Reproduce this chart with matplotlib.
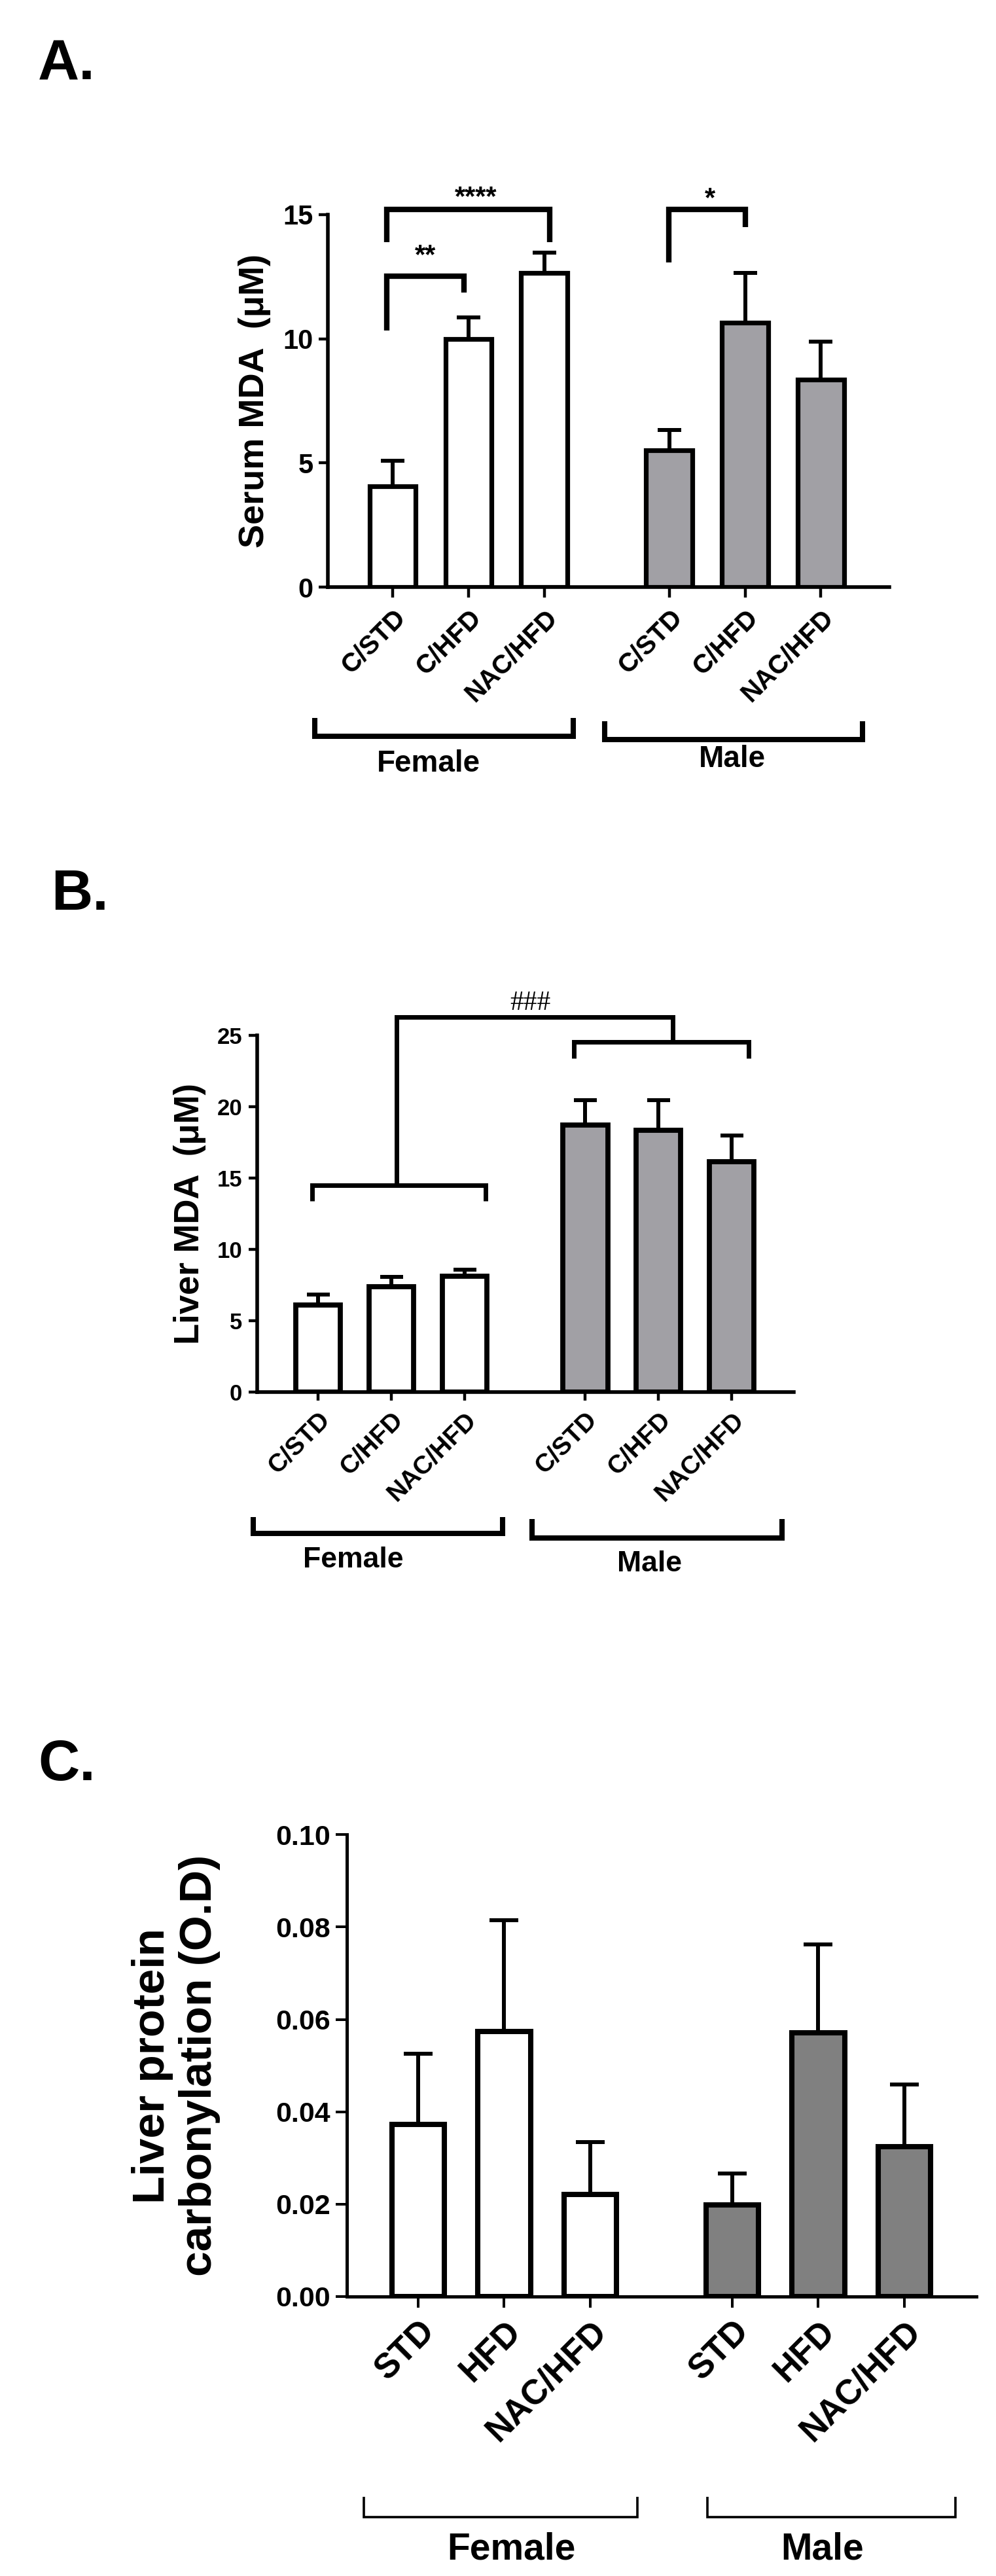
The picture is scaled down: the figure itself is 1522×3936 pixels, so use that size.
import numpy as np
import matplotlib.pyplot as plt

plt.rcParams['font.family'] = ['Liberation Sans', 'DejaVu Sans']
plt.rcParams['font.weight'] = 'bold'

# 组别标签
labels_ab = ['C/STD', 'C/HFD', 'NAC/HFD']
labels_c = ['STD', 'HFD', 'NAC/HFD']

# A: Serum MDA (uM), mean + SEM
serum_female = [4.05, 10.0, 12.64]
serum_female_err = [1.04, 0.85, 0.82]
serum_male = [5.51, 10.66, 8.36]
serum_male_err = [0.82, 1.98, 1.53]

# B: Liver MDA (uM)
liver_female = [6.1, 7.37, 8.12]
liver_female_err = [0.73, 0.70, 0.46]
liver_male = [18.7, 18.35, 16.15]
liver_male_err = [1.75, 2.1, 1.83]

# C: Liver protein carbonylation (O.D)
carb_female = [0.0372, 0.0574, 0.0221]
carb_female_err = [0.0153, 0.024, 0.0113]
carb_male = [0.0199, 0.0571, 0.0325]
carb_male_err = [0.0067, 0.0191, 0.0134]

pos_f = np.array([0.0, 1.0, 2.0])
pos_m = pos_f + 3.65
bar_w = 0.61


def bracket(ax, x1, x2, y1, ybar, y2, lw):
    ax.plot([x1, x1, x2, x2], [y1, ybar, ybar, y2], color='black', lw=lw,
            clip_on=False, solid_joinstyle='miter', solid_capstyle='butt')


def draw_bars(ax, female, female_err, male, male_err, male_color, edge_lw, err_lw, capsize):
    ax.bar(pos_f, female, width=bar_w, color='white', edgecolor='black', linewidth=edge_lw, zorder=2)
    ax.bar(pos_m, male, width=bar_w, color=male_color, edgecolor='black', linewidth=edge_lw, zorder=2)
    ax.errorbar(pos_f, female, yerr=[np.zeros(3), female_err], fmt='none', ecolor='black',
                elinewidth=err_lw, capsize=capsize, capthick=err_lw, zorder=1.5)
    ax.errorbar(pos_m, male, yerr=[np.zeros(3), male_err], fmt='none', ecolor='black',
                elinewidth=err_lw, capsize=capsize, capthick=err_lw, zorder=1.5)


def style_axes(ax, spine_lw, tick_fs, xtick_fs, labels, ylen, xlen, ypad):
    ax.spines['top'].set_visible(False)
    ax.spines['right'].set_visible(False)
    ax.spines['left'].set_linewidth(spine_lw)
    ax.spines['bottom'].set_linewidth(spine_lw)
    ax.set_xticks(np.concatenate([pos_f, pos_m]))
    ax.set_xticklabels(labels + labels, rotation=45, ha='right', rotation_mode='anchor',
                       fontsize=xtick_fs, fontweight='bold')
    ax.tick_params(axis='y', length=ylen, width=spine_lw * 0.8, labelsize=tick_fs, pad=ypad)
    ax.tick_params(axis='x', length=xlen, width=spine_lw * 0.8, pad=8)
    for t in ax.get_yticklabels():
        t.set_fontweight('bold')


fig = plt.figure(figsize=(15.22, 39.36), dpi=100)

# ---------------- A ----------------
ax1 = fig.add_axes([0.3292, 0.7721, 0.5637, 0.1446])
draw_bars(ax1, serum_female, serum_female_err, serum_male, serum_male_err,
          '#a1a0a5', 5.2, 4.3, 13)
ax1.set_xlim(-0.855, 6.554)
ax1.set_ylim(0, 15)
ax1.set_yticks([0, 5, 10, 15])
style_axes(ax1, 4, 30, 29, labels_ab, 10, 11.5, 6)
ax1.set_ylabel('Serum MDA  (μM)', fontsize=39, fontweight='bold')
ax1.yaxis.set_label_coords(-0.101, 0.5)

bracket(ax1, -0.08, 0.94, 10.34, 12.53, 11.85, 6)
ax1.text(0.43, 13.05, '**', ha='center', va='baseline', fontsize=30)
bracket(ax1, -0.08, 2.07, 13.9, 15.2, 13.9, 6)
ax1.text(1.1, 15.4, '****', ha='center', va='baseline', fontsize=30)
bracket(ax1, 3.64, 4.65, 13.06, 15.22, 14.5, 6)
ax1.text(4.19, 15.34, '*', ha='center', va='baseline', fontsize=30)

bracket(ax1, -1.028, 2.383, -5.27, -6.01, -5.27, 5.8)
bracket(ax1, 2.798, 6.2, -5.40, -6.14, -5.40, 5.8)
ax1.text(0.47, -7.12, 'Female', ha='center', va='center', fontsize=33)
ax1.text(4.48, -6.93, 'Male', ha='center', va='center', fontsize=33)

# ---------------- B ----------------
ax2 = fig.add_axes([0.2582, 0.4596, 0.5388, 0.1385])
draw_bars(ax2, liver_female, liver_female_err, liver_male, liver_male_err,
          '#a1a0a5', 5.6, 4.3, 12.6)
ax2.set_xlim(-0.831, 6.497)
ax2.set_ylim(0, 25)
ax2.set_yticks([0, 5, 10, 15, 20, 25])
style_axes(ax2, 4, 25, 28, labels_ab, 9.5, 9.5, 7)
ax2.set_ylabel('Liver MDA  (μM)', fontsize=38, fontweight='bold')
ax2.yaxis.set_label_coords(-0.095, 0.5)

bracket(ax2, -0.08, 2.29, 13.4, 14.5, 13.4, 5)
bracket(ax2, 3.49, 5.88, 23.4, 24.55, 23.4, 5)
ax2.plot([1.07, 1.07, 4.84, 4.84], [14.5, 26.28, 26.28, 24.55], color='black', lw=5,
         clip_on=False, solid_joinstyle='miter', solid_capstyle='butt')
ax2.text(2.9, 26.8, '###', ha='center', va='baseline', fontsize=30,
         fontweight='normal', family=['Liberation Serif', 'DejaVu Serif'])

bracket(ax2, -0.885, 2.52, -8.76, -9.91, -8.76, 5.8)
bracket(ax2, 2.92, 6.34, -8.9, -10.23, -8.9, 5.8)
ax2.text(0.48, -11.74, 'Female', ha='center', va='center', fontsize=32)
ax2.text(4.53, -12.06, 'Male', ha='center', va='center', fontsize=32)

# ---------------- C ----------------
ax3 = fig.add_axes([0.3482, 0.1085, 0.6321, 0.1793])
draw_bars(ax3, carb_female, carb_female_err, carb_male, carb_male_err,
          '#808080', 5.8, 4.3, 15.8)
ax3.set_xlim(-0.829, 6.487)
ax3.set_ylim(0, 0.10)
ax3.set_yticks([0, 0.02, 0.04, 0.06, 0.08, 0.10])
ax3.set_yticklabels(['0.00', '0.02', '0.04', '0.06', '0.08', '0.10'])
style_axes(ax3, 3.6, 31, 38, labels_c, 12, 12, 6)
ax3.set_ylabel('Liver protein\ncarbonylation (O.D)', fontsize=50, fontweight='bold', linespacing=1.15)
ax3.yaxis.set_label_coords(-0.2006, 0.5)

bracket(ax3, -0.631, 2.548, -0.0434, -0.0478, -0.0434, 2.6)
bracket(ax3, 3.361, 6.243, -0.0434, -0.0478, -0.0434, 2.6)
ax3.text(1.08, -0.0548, 'Female', ha='center', va='center', fontsize=41)
ax3.text(4.70, -0.0548, 'Male', ha='center', va='center', fontsize=41)

# panel letters
fig.text(58 / 1522, 1 - 121 / 3936, 'A.', fontsize=63, fontweight='bold', va='baseline')
fig.text(78 / 1522, 1 - 1390 / 3936, 'B.', fontsize=63, fontweight='bold', va='baseline')
fig.text(58 / 1522, 1 - 2720 / 3936, 'C.', fontsize=63, fontweight='bold', va='baseline')

fig.savefig('out.png', dpi=100, facecolor='white')
plt.close(fig)
